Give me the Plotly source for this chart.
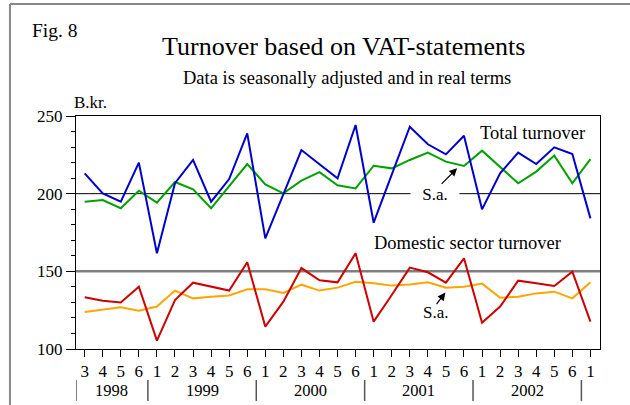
import plotly.graph_objects as go

# ---- data ----
months = [3, 4, 5, 6] + [1, 2, 3, 4, 5, 6] * 4 + [1]
years = ["1998", "1999", "2000", "2001", "2002"]
year_centers = [1.5, 6.5, 12.5, 18.5, 24.5]
year_bounds = [-0.48, 3.5, 9.5, 15.5, 21.5, 27.5]

total_turnover = [213.1, 200.2, 194.8, 220.0, 161.6, 206.7, 221.7, 194.8, 209.4, 238.8,
                  171.2, 199.1, 228.1, 218.9, 209.9, 244.2, 181.3, 212.2, 243.1, 231.8,
                  225.3, 237.3, 189.9, 213.1, 226.4, 219.1, 229.8, 225.5, 184.1]
total_sa = [194.8, 195.9, 190.6, 201.9, 194.2, 207.5, 202.8, 190.6, 204.9, 219.1,
            206.0, 200.2, 208.4, 213.9, 205.4, 203.4, 218.0, 216.3, 221.7, 226.4,
            220.6, 217.8, 227.7, 217.0, 206.7, 214.2, 224.5, 206.7, 222.3]
domestic = [133.3, 131.1, 130.0, 140.1, 105.4, 131.5, 142.7, 140.1, 137.6, 155.8,
            114.4, 130.5, 152.1, 144.2, 142.9, 161.6, 117.6, 134.8, 152.4, 149.4,
            142.7, 158.4, 116.9, 127.3, 144.0, 142.3, 140.6, 149.8, 117.6]
domestic_sa = [123.8, 125.5, 126.8, 124.7, 127.3, 137.6, 132.6, 133.7, 134.5, 138.4,
               138.4, 136.1, 141.4, 137.6, 139.5, 143.3, 142.3, 140.8, 141.6, 142.9,
               139.5, 140.1, 142.1, 133.0, 133.7, 135.8, 136.9, 132.6, 142.9]

x = list(range(len(months)))
FONT = "Liberation Serif"

fig = go.Figure()
fig.add_trace(go.Scatter(x=x, y=total_sa, mode="lines", line=dict(color="#00A000", width=2)))
fig.add_trace(go.Scatter(x=x, y=total_turnover, mode="lines", line=dict(color="#0000CC", width=2)))
fig.add_trace(go.Scatter(x=x, y=domestic_sa, mode="lines", line=dict(color="#FFA500", width=2)))
fig.add_trace(go.Scatter(x=x, y=domestic, mode="lines", line=dict(color="#CC0000", width=2)))

shapes = []
# reference lines
shapes.append(dict(type="line", xref="paper", yref="y", x0=0, x1=1, y0=200, y1=200,
                   line=dict(color="black", width=1), layer="below"))
shapes.append(dict(type="line", xref="paper", yref="y", x0=0, x1=1, y0=150, y1=150,
                   line=dict(color="#808080", width=2.5), layer="below"))
# year separators
for b in year_bounds:
    shapes.append(dict(type="line", xref="x", yref="paper", x0=b, x1=b, y0=-0.133, y1=-0.223,
                       line=dict(color="#555555", width=1.5)))
# outer frame
shapes.append(dict(type="line", xref="paper", yref="paper", x0=-0.126, x1=-0.126, y0=1.4807, y1=-0.3,
                   line=dict(color="#888888", width=2)))
shapes.append(dict(type="line", xref="paper", yref="paper", x0=-0.126, x1=1.1, y0=1.4807, y1=1.4807,
                   line=dict(color="#888888", width=2)))


def note(xv, yv, text, size, xref="paper", yref="paper", **kw):
    d = dict(x=xv, y=yv, xref=xref, yref=yref, text=text, showarrow=False,
             xanchor="center", yanchor="middle",
             font=dict(family=FONT, size=size, color="black"))
    d.update(kw)
    return d


annotations = []
for yl, xc in zip(years, year_centers):
    annotations.append(note(xc, -0.18, yl, 16.5, xref="x"))
annotations += [
    note(0.511, 1.30, "Turnover based on VAT-statements", 26),
    note(0.517, 1.165, "Data is seasonally adjusted and in real terms", 18.5),
    note(-0.04, 1.365, "Fig. 8", 19.5),
    note(0.027, 1.056, "B.kr.", 17),
    note(24.77, 239.1, "Total turnover", 18.5, xref="x", yref="y"),
    note(21.22, 168.3, "Domestic sector turnover", 18.5, xref="x", yref="y"),
    note(19.42, 200, "S.a.", 17, xref="x", yref="y", bgcolor="white", width=46, height=14),
    note(19.47, 123.2, "S.a.", 17, xref="x", yref="y"),
    dict(x=20.62, y=216.3, xref="x", yref="y", text="", showarrow=True, ax=-17, ay=17,
         arrowhead=2, arrowsize=1.3, arrowwidth=1.2, arrowcolor="black"),
    dict(x=19.97, y=136.3, xref="x", yref="y", text="", showarrow=True, ax=-10, ay=13,
         arrowhead=2, arrowsize=1.3, arrowwidth=1.2, arrowcolor="black"),
]

fig.update_layout(
    width=630, height=405,
    margin=dict(l=76, r=30, t=116, b=56, pad=0),
    paper_bgcolor="white", plot_bgcolor="white",
    showlegend=False,
    shapes=shapes, annotations=annotations,
    xaxis=dict(range=[-0.48, 28.53], tickmode="array", tickvals=x, ticktext=[str(m) for m in months],
               ticks="outside", ticklen=7, tickcolor="black", showgrid=False, zeroline=False,
               showline=True, linecolor="black", linewidth=1, mirror=True,
               tickfont=dict(family=FONT, size=17, color="black")),
    yaxis=dict(range=[100, 250], tickvals=[100, 150, 200, 250], ticks="outside", ticklen=9,
               tickcolor="black", showgrid=False, zeroline=False, showline=True,
               linecolor="black", linewidth=1, mirror=True,
               minor=dict(dtick=10, ticks="outside", ticklen=4, tickcolor="black"),
               tickfont=dict(family=FONT, size=17, color="black")),
)

fig.write_html("out.html", config={"displayModeBar": False},
               post_script="document.body.style.margin='0';")
